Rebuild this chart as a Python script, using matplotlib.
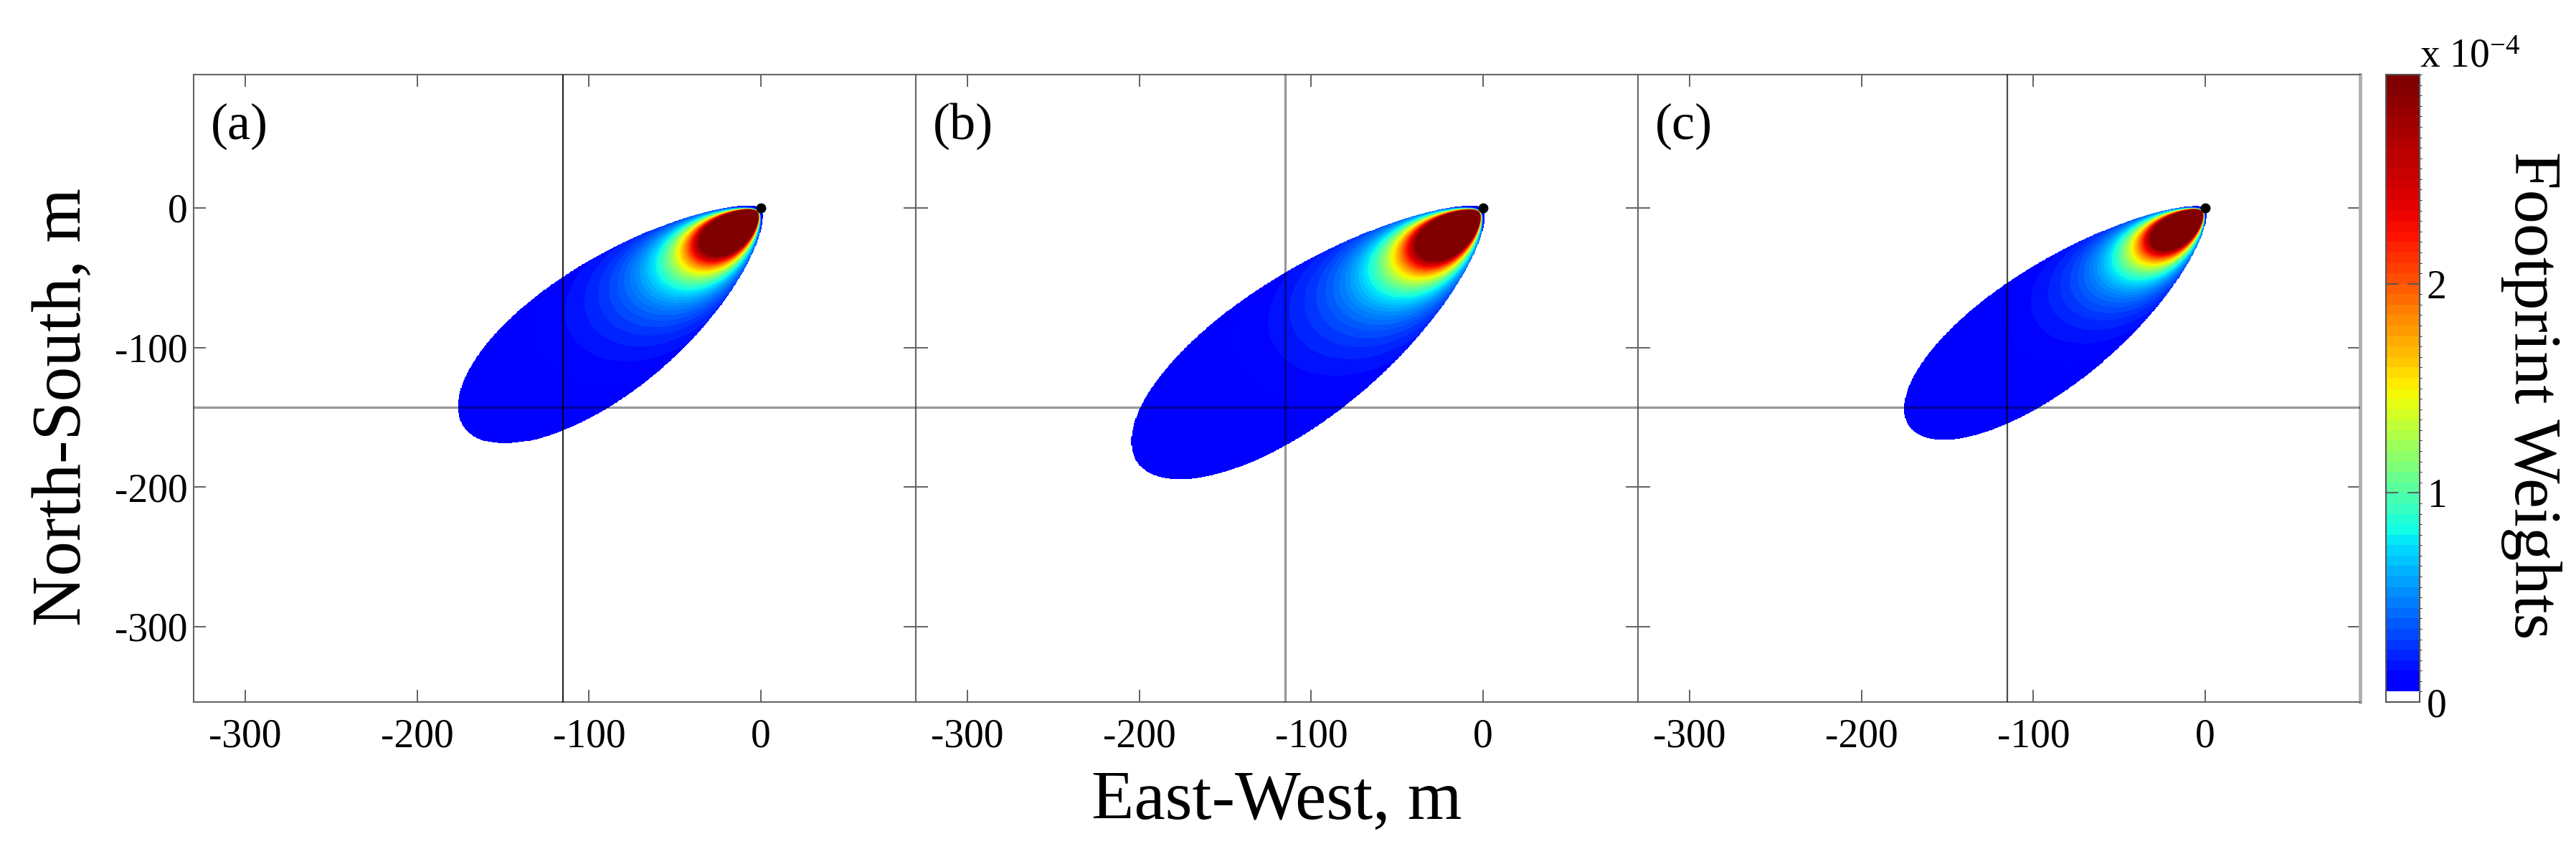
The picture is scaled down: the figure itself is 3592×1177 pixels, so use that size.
import numpy as np
import matplotlib
matplotlib.use("Agg")
import matplotlib.pyplot as plt
from matplotlib.colors import ListedColormap, BoundaryNorm

plt.rcParams['font.family'] = ['Liberation Serif', 'DejaVu Serif']
plt.rcParams['axes.unicode_minus'] = False
plt.rcParams['mathtext.default'] = 'regular'

# footprint parameters
panel_labels = ['(a)', '(b)', '(c)']
wind_angle = [43.5, 43.3, 43.2]      # deg, footprint axis below the -x direction
fp_length = [234, 272, 233]          # m, along-wind extent of the footprint
fp_halfwidth = [44, 48, 40]          # m, widest cross-wind half width
tip_shape = 0.7                      # taper of the outline near the tower
peak_dist = [10.5, 11.5, 9.5]        # m, distance of max weight from tower
peak_weight = [24e-4, 24e-4, 23e-4]  # max weight
spread = [0.28, 0.28, 0.27]          # cross-wind spread per metre
ref_x = -115                         # vertical reference line
ref_y = -143                         # horizontal reference line
tower = (0, 0)

x_ticks = [-300, -200, -100, 0]
y_ticks = [0, -100, -200, -300]
cbar_ticks = [0, 1e-4, 2e-4]
cbar_ticklabels = ['0', '1', '2']
vmax = 3e-4
vline_alpha = [0.85, 0.4, 0.7]

# colormap: white for the lowest band, then a jet-like ramp
nlev = 60
levels = np.linspace(0, vmax, nlev + 1)
p = np.linspace(0, 1, nlev - 1)
jet_pos = np.interp(p, [0, 0.24, 0.476, 0.74, 1.0], [0.11, 0.35, 0.64, 0.89, 1.0])
colors = [(1, 1, 1, 1)] + list(plt.cm.jet(jet_pos))
cmap = ListedColormap(colors)
norm = BoundaryNorm(levels, cmap.N)

W, H = 3592, 1177
fig = plt.figure(figsize=(W / 100, H / 100), dpi=100)

xg = np.linspace(-330, 90, 841)
yg = np.linspace(-354, 95.5, 900)
X, Y = np.meshgrid(xg, yg)

ax_left = [270, 1277, 2284]
for i in range(3):
    ax = fig.add_axes([ax_left[i] / W, 1 - 979 / H, 1007 / W, 875 / H])

    th = np.deg2rad(wind_angle[i])
    ux, uy = -np.cos(th), -np.sin(th)
    S = X * ux + Y * uy
    N = -X * uy + Y * ux
    L = fp_length[i]
    s_m = L * tip_shape / (tip_shape + 0.5)
    Sc = np.clip(S, 0, L)
    n_max = fp_halfwidth[i] * (Sc / s_m) ** tip_shape * np.sqrt((L - Sc) / (L - s_m))
    inside = (S > 0) & (S < L) & (np.abs(N) <= n_max)

    Ss = np.clip(S, 1e-3, None)
    fc = peak_weight[i] * (peak_dist[i] / Ss) ** 3 * np.exp(3 - 3 * peak_dist[i] / Ss)
    sig = spread[i] * Ss + 0.5
    F = fc * np.exp(-N ** 2 / (2 * sig ** 2))
    F = np.clip(F, levels[1] * 1.05, vmax * 0.999)
    F = np.where(inside, F, np.nan)

    cs = ax.contourf(X, Y, F, levels=levels, cmap=cmap, norm=norm)

    ax.axvline(ref_x, color='k', alpha=vline_alpha[i], lw=1.6 if i != 1 else 2.4, zorder=3)
    ax.axhline(ref_y, color='k', alpha=0.4, lw=2.4, zorder=3)
    ax.plot(tower[0], tower[1], 'o', color='k', ms=9, zorder=4)

    ax.set_xlim(-330, 90)
    ax.set_ylim(-354, 95.5)
    ax.set_xticks(x_ticks)
    ax.set_yticks(y_ticks)
    ax.tick_params(direction='in', top=True, right=True, length=12, width=1.3,
                   color='#555555', labelsize=40, labelleft=(i == 0))
    ax.tick_params(axis='x', pad=16)
    ax.tick_params(axis='y', pad=6)
    for sp in ax.spines.values():
        sp.set_color('#666666')
        sp.set_linewidth(1.5)
    if i == 2:
        ax.spines['right'].set_color('#b0b0b0')
        ax.spines['right'].set_linewidth(3.5)

    ax.text(0.024, 0.955, panel_labels[i], transform=ax.transAxes, fontsize=52,
            ha='left', va='top')

# colorbar
cax = fig.add_axes([3327 / W, 1 - 979 / H, 47 / W, 875 / H])
cb = fig.colorbar(cs, cax=cax, ticks=cbar_ticks)
cb.set_ticklabels(cbar_ticklabels)
cb.outline.set_edgecolor('#555555')
cb.outline.set_linewidth(1.5)
cax.tick_params(direction='in', left=True, right=True, length=12, width=1.3,
                color='#555555', labelsize=40, pad=7)
fig.text(3374 / W, 1 - 93 / H, 'x 10$^{-4}$', fontsize=40, ha='left', va='baseline')

fig.text(112 / W, 1 - 568 / H, 'North-South, m', fontsize=70, rotation=90,
         rotation_mode='anchor', ha='center', va='baseline')
fig.text(1780 / W, 1 - 1142 / H, 'East-West, m', fontsize=70,
         ha='center', va='baseline')
fig.text(3507 / W, 1 - 551 / H, 'Footprint Weights', fontsize=68, rotation=270,
         rotation_mode='anchor', ha='center', va='baseline')

fig.savefig('out.png', dpi=100)
